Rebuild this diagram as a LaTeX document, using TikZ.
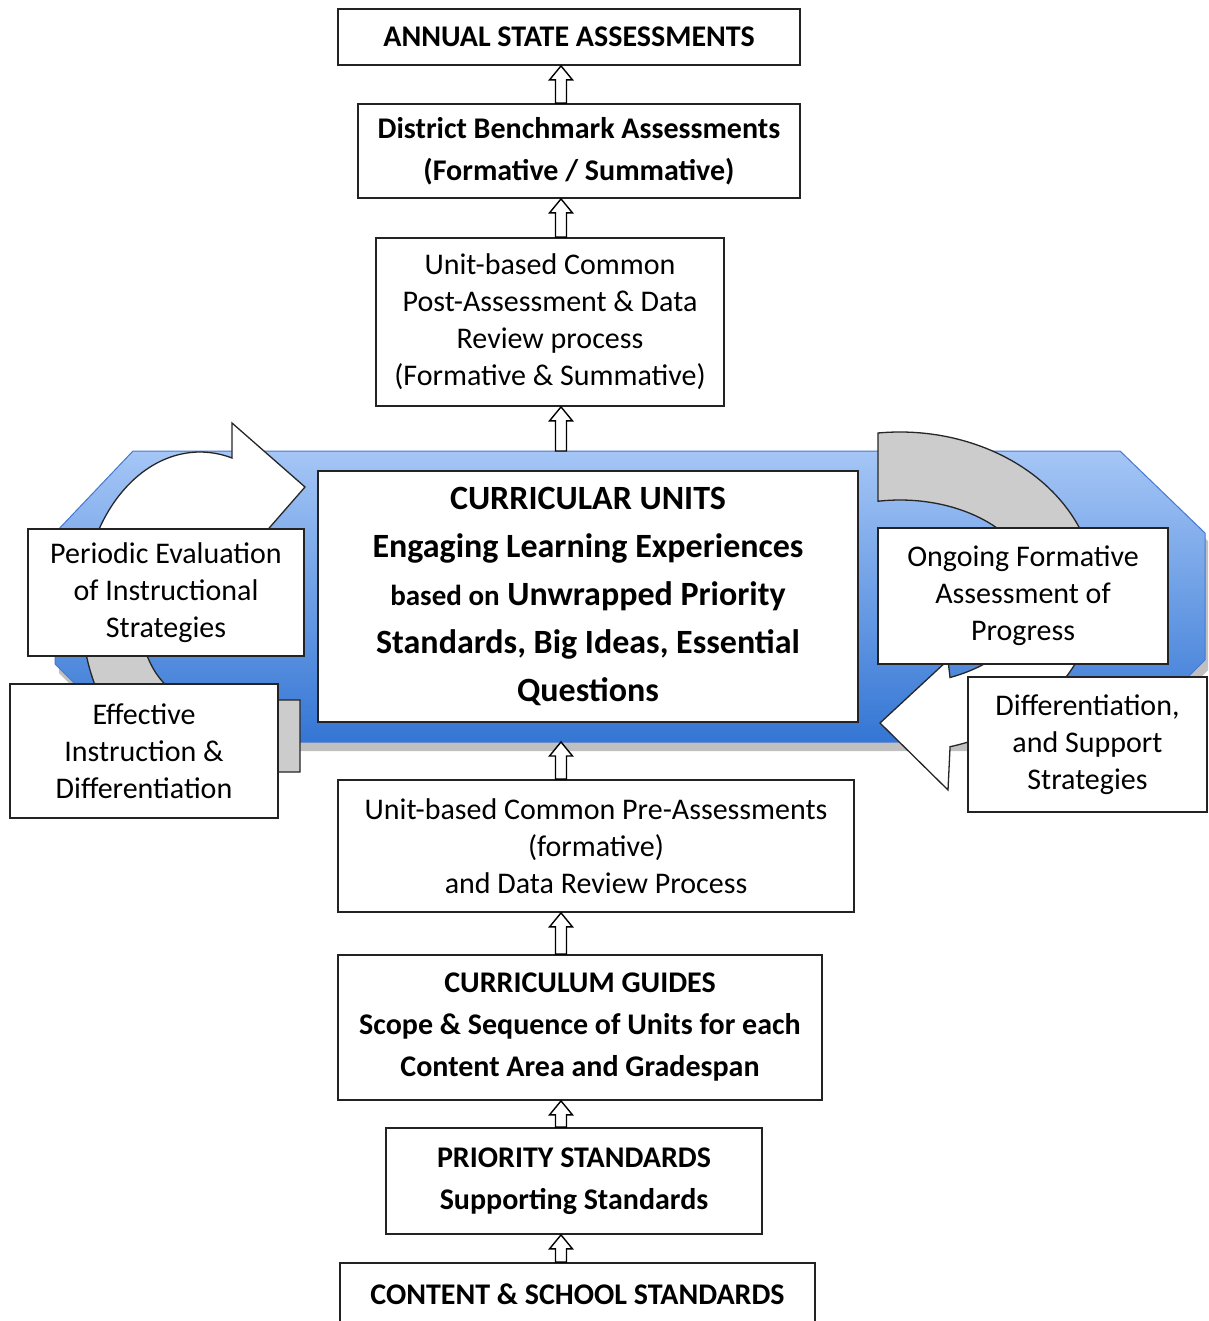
\documentclass[tikz,border=0pt]{standalone}
\usepackage{fontspec}
\setmainfont{Carlito}
\usetikzlibrary{shadows,calc}
\definecolor{bandtop}{RGB}{165,198,246}
\definecolor{bandmid}{RGB}{118,166,236}
\definecolor{bandbot}{RGB}{52,118,212}
\definecolor{bandline}{RGB}{70,120,205}
\definecolor{ringgray}{RGB}{204,204,204}
\definecolor{boxline}{RGB}{35,35,35}
\newcommand\blkarrow[2]{%
  \draw[blk] let \p1=(#1), \p2=(#2) in
    (\x1-5.5pt,\y1) -- (\x1-5.5pt,\y2-14pt) -- (\x1-11.5pt,\y2-14pt) -- (\x1,\y2)
    -- (\x1+11.5pt,\y2-14pt) -- (\x1+5.5pt,\y2-14pt) -- (\x1+5.5pt,\y1) -- cycle;}
\begin{document}
\begin{tikzpicture}[x=1pt,y=-1pt,
  box/.style={draw=boxline, line width=1.8pt, fill=white, align=center, inner sep=0pt},
  bf/.style={font=\bfseries\fontsize{30}{42}\selectfont},
  rg/.style={font=\fontsize{30}{37}\selectfont},
  cu/.style={font=\bfseries\fontsize{34}{48}\selectfont},
  blk/.style={draw=black, line width=1.4pt, fill=white, line join=miter},
  ringw/.style={draw=black!85, line width=1.3pt, fill=white},
  ringg/.style={draw=black!85, line width=1.3pt, fill=ringgray},
  band/.style={draw=bandline, line width=1pt, top color=bandtop, middle color=bandmid, bottom color=bandbot,
     drop shadow={shadow xshift=4pt, shadow yshift=-9pt, opacity=0.35, fill=black!70}}]
\useasboundingbox (0,0) rectangle (1208,1321);
\fill[white] (0,0) rectangle (1208,1321);
\clip (0,0) rectangle (1208,1321);

% blue band
\path[band] (133,451) -- (1120,451) -- (1205,533) -- (1205,660) -- (1123,742)
  -- (133,742) -- (55,664) -- (55,533) -- cycle;
\coordinate (ax) at (561,0);
\coordinate (bandtop) at (561,451);
\coordinate (bandbot) at (561,742);

% left circular arrow
\filldraw[ringg] (82,612) arc[start angle=180, end angle=90, x radius=118, y radius=160]
  -- (300,772) -- (300,700) -- (200,700)
  arc[start angle=90, end angle=180, x radius=60, y radius=84] -- cycle;
\filldraw[ringw] (82,612) arc[start angle=180, end angle=285.7, x radius=118, y radius=160]
  -- (232,423) -- (305,487) -- (236,566) -- (238,551)
  arc[start angle=309.3, end angle=180, x radius=60, y radius=84] -- cycle;

% right circular arrow
\filldraw[ringg] (878,433) arc[start angle=263.6, end angle=360, x radius=196, y radius=160]
  -- (1035,592) arc[start angle=360, end angle=260.6, x radius=135, y radius=92] -- cycle;
\filldraw[ringw] (1096,592) arc[start angle=0, end angle=75.2, x radius=196, y radius=160]
  -- (948,790) -- (880,723) -- (948,660) -- (950,677.5)
  arc[start angle=68.3, end angle=0, x radius=135, y radius=92] -- cycle;

% boxes
\node[box, bf, minimum width=462, minimum height=56] (annual) at (569,37) {ANNUAL STATE ASSESSMENTS};
\node[box, bf, minimum width=442, minimum height=94] (district) at (579,151) {District Benchmark Assessments\\(Formative / Summative)};
\node[box, rg, minimum width=348, minimum height=168] (post) at (550,322) {Unit-based Common\\Post-Assessment \& Data\\Review process\\(Formative \& Summative)};
\node[box, cu, minimum width=540, minimum height=251] (units) at (588,596.5) {CURRICULAR UNITS\\Engaging Learning Experiences\\{\fontsize{29}{48}\selectfont based on} Unwrapped Priority\\Standards, Big Ideas, Essential\\Questions};
\node[box, rg, minimum width=276, minimum height=127] (periodic) at (166,592.5) {Periodic Evaluation\\of Instructional\\Strategies};
\node[box, rg, minimum width=268, minimum height=134] (effective) at (144,751) {Effective\\Instruction \&\\Differentiation};
\node[box, rg, minimum width=290, minimum height=136] (ongoing) at (1023,596) {Ongoing Formative\\Assessment of\\Progress};
\node[box, rg, minimum width=239, minimum height=135] (diff) at (1087.5,744.5) {Differentiation,\\and Support\\Strategies};
\node[box, rg, minimum width=516, minimum height=132] (pre) at (596,846) {Unit-based Common Pre-Assessments\\(formative)\\and Data Review Process};
\node[box, bf, minimum width=484, minimum height=145] (guides) at (580,1027.5) {CURRICULUM GUIDES\\Scope \& Sequence of Units for each\\Content Area and Gradespan};
\node[box, bf, minimum width=376, minimum height=106] (priority) at (574,1181) {PRIORITY STANDARDS\\Supporting Standards};
\node[box, bf, minimum width=475, minimum height=62] (content) at (577.5,1294) {CONTENT \& SCHOOL STANDARDS};

% hollow block arrows
\blkarrow{district.north -| ax}{annual.south -| ax}
\blkarrow{post.north -| ax}{district.south -| ax}
\blkarrow{bandtop}{post.south -| ax}
\blkarrow{pre.north -| ax}{bandbot}
\blkarrow{guides.north -| ax}{pre.south -| ax}
\blkarrow{priority.north -| ax}{guides.south -| ax}
\blkarrow{content.north -| ax}{priority.south -| ax}
\end{tikzpicture}
\end{document}
